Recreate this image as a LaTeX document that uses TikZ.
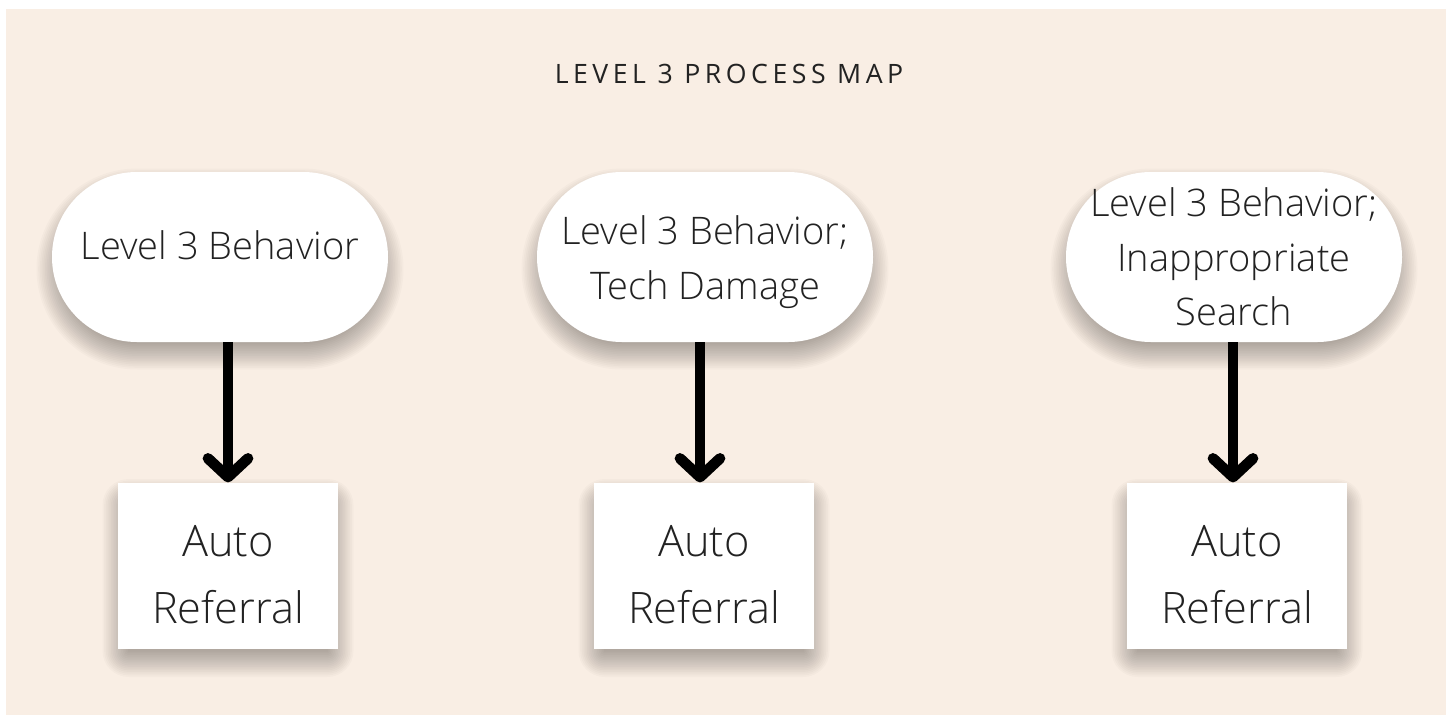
\documentclass[tikz,border=0pt]{standalone}
\usepackage{fontspec}
\setmainfont{Open Sans Light}
\newfontfamily\titlefont[LetterSpace=17]{Open Sans}
\usetikzlibrary{arrows.meta}
\definecolor{beige}{HTML}{F9EEE4}
\definecolor{ink}{HTML}{222222}
\newcommand{\dropshade}[5]{%
  \foreach \k in {0,...,15}{%
    \pgfmathsetmacro\shw{#3-10+1.7*\k}%
    \pgfmathsetmacro\shh{#4-10+1.7*\k}%
    \pgfmathsetmacro\shr{(#5>0) ? (\shh*0.75-0.05) : max(0.2,1.3*\k)}%
    \fill[black,opacity=0.021,rounded corners=\shr pt] (#1-\shw,#2+12-\shh) rectangle (#1+\shw,#2+12+\shh);
  }}
\begin{document}
\begin{tikzpicture}[x=0.75pt,y=-0.75pt,
  stadium/.style={fill=white, draw=none, minimum width=252pt, minimum height=127.5pt,
    rounded corners=63.6pt, inner sep=0pt},
  refbox/.style={fill=white, draw=none, minimum width=165pt, minimum height=125pt,
    inner sep=0pt},
  stadtext/.style={align=center, inner sep=0pt, text=ink, font=\fontsize{28.5}{41}\selectfont},
  reftext/.style={align=center, inner sep=0pt, text=ink, font=\fontsize{32.5}{50}\selectfont},
  flow/.style={line width=8pt, -{Straight Barb[length=14pt,width=30pt,round]}}]
\useasboundingbox (0,0) rectangle (1450,715);
\fill[white] (0,0) rectangle (1450,715);
\fill[beige] (6,9) rectangle (1446,715);
\node[text=ink, font=\titlefont\fontsize{20}{24}\selectfont] (title) at (729,74) {LEVEL 3 PROCESS MAP};
% soft drop shadows
\dropshade{220}{257}{168}{85}{1}
\dropshade{705}{257}{168}{85}{1}
\dropshade{1234}{257}{168}{85}{1}
\dropshade{228}{566}{110}{83.5}{0}
\dropshade{704}{566}{110}{83.5}{0}
\dropshade{1237}{566}{110}{83.5}{0}
\node[stadium] (s1) at (220,257) {};
\node[stadium] (s2) at (705,257) {};
\node[stadium] (s3) at (1234,257) {};
\node[refbox] (r1) at (228,566) {};
\node[refbox] (r2) at (704,566) {};
\node[refbox] (r3) at (1237,566) {};
\node[stadtext] (s1t) at (220,245) {Level 3 Behavior};
\node[stadtext] (s2t) at (705,262) {Level 3 Behavior;\\Tech Damage};
\node[stadtext] (s3t) at (1234,257) {Level 3 Behavior;\\Inappropriate\\Search};
\node[reftext] (r1t) at (228,575) {Auto\\Referral};
\node[reftext] (r2t) at (704,575) {Auto\\Referral};
\node[reftext] (r3t) at (1237,575) {Auto\\Referral};
\draw[flow] (r1.north |- s1.south) -- (r1.north);
\draw[flow] ([xshift=-3pt]r2.north |- s2.south) -- ([xshift=-3pt]r2.north);
\draw[flow] ([xshift=-3pt]r3.north |- s3.south) -- ([xshift=-3pt]r3.north);
\end{tikzpicture}
\end{document}
